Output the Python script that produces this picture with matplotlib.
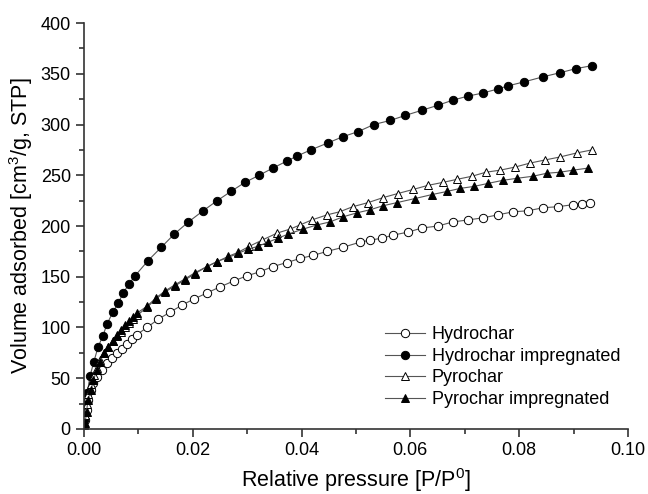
import numpy as np
import matplotlib
matplotlib.use("Agg")
import matplotlib.pyplot as plt
from matplotlib.ticker import MultipleLocator

plt.rcParams['font.family'] = ['Liberation Sans', 'DejaVu Sans']
plt.rcParams['mathtext.default'] = 'regular'

# Hydrochar (open circles)
x_hc = [0.0000, 0.0002, 0.0005, 0.0008, 0.0012, 0.0017, 0.0024, 0.0033, 0.0042,
        0.0051, 0.0061, 0.0070, 0.0079, 0.0088, 0.0097, 0.0116, 0.0136, 0.0158,
        0.0180, 0.0202, 0.0226, 0.0250, 0.0276, 0.0300, 0.0324, 0.0347, 0.0373,
        0.0397, 0.0421, 0.0447, 0.0476, 0.0507, 0.0525, 0.0548, 0.0568, 0.0596,
        0.0621, 0.0651, 0.0678, 0.0706, 0.0733, 0.0761, 0.0789, 0.0816, 0.0844,
        0.0871, 0.0899, 0.0915, 0.0930]
y_hc = [2, 9, 19, 29, 38, 45, 51, 58, 65,
        70, 75, 79, 84, 89, 93, 100, 108, 115,
        122, 128, 134, 140, 146, 151, 155, 160, 164,
        168, 171, 175, 179, 184, 186, 188, 191, 194,
        198, 200, 204, 206, 208, 211, 214, 215, 218,
        219, 221, 222, 223]

# Hydrochar impregnated (filled circles)
x_hci = [0.0000, 0.0002, 0.0006, 0.0011, 0.0018, 0.0026, 0.0035, 0.0042, 0.0053,
         0.0063, 0.0072, 0.0083, 0.0094, 0.0118, 0.0142, 0.0166, 0.0192, 0.0219,
         0.0245, 0.0270, 0.0296, 0.0322, 0.0347, 0.0373, 0.0392, 0.0417, 0.0449,
         0.0476, 0.0504, 0.0533, 0.0563, 0.0591, 0.0621, 0.0651, 0.0678, 0.0706,
         0.0733, 0.0761, 0.0779, 0.0809, 0.0844, 0.0875, 0.0904, 0.0934]
y_hci = [9, 24, 35, 52, 66, 81, 92, 103, 115,
         124, 134, 143, 151, 166, 179, 192, 204, 215,
         225, 234, 243, 250, 257, 264, 269, 275, 282,
         288, 293, 300, 304, 309, 314, 319, 324, 328,
         331, 335, 338, 342, 347, 351, 355, 358]

# Pyrochar (open triangles)
x_py = [0.0000, 0.0002, 0.0005, 0.0008, 0.0013, 0.0018, 0.0024, 0.0030, 0.0037,
        0.0044, 0.0053, 0.0061, 0.0068, 0.0075, 0.0083, 0.0090, 0.0098, 0.0116,
        0.0132, 0.0149, 0.0167, 0.0186, 0.0204, 0.0226, 0.0245, 0.0265, 0.0283,
        0.0304, 0.0327, 0.0355, 0.0379, 0.0397, 0.0419, 0.0447, 0.0470, 0.0494,
        0.0522, 0.0550, 0.0577, 0.0605, 0.0632, 0.0660, 0.0686, 0.0713, 0.0739,
        0.0765, 0.0792, 0.0820, 0.0847, 0.0875, 0.0906, 0.0934]
y_py = [3, 14, 25, 34, 44, 53, 60, 68, 75,
        81, 87, 92, 96, 100, 104, 108, 112, 120,
        128, 135, 141, 147, 153, 160, 165, 170, 174,
        180, 186, 193, 197, 201, 206, 211, 214, 219,
        223, 228, 232, 236, 240, 243, 246, 249, 253,
        255, 258, 262, 265, 268, 272, 275]

# Pyrochar impregnated (filled triangles)
x_pyi = [0.0000, 0.0002, 0.0005, 0.0007, 0.0013, 0.0017, 0.0024, 0.0029, 0.0037,
         0.0044, 0.0053, 0.0061, 0.0068, 0.0075, 0.0083, 0.0090, 0.0097, 0.0116,
         0.0132, 0.0149, 0.0167, 0.0186, 0.0204, 0.0226, 0.0245, 0.0265, 0.0283,
         0.0301, 0.0320, 0.0338, 0.0357, 0.0375, 0.0403, 0.0428, 0.0452, 0.0476,
         0.0502, 0.0526, 0.0550, 0.0575, 0.0608, 0.0640, 0.0667, 0.0691, 0.0717,
         0.0743, 0.0770, 0.0796, 0.0825, 0.0851, 0.0875, 0.0899, 0.0926]
y_pyi = [2, 6, 17, 29, 38, 48, 58, 66, 75,
         81, 87, 93, 98, 102, 106, 110, 114, 121,
         129, 136, 142, 148, 154, 160, 165, 169, 173,
         177, 180, 184, 188, 192, 197, 201, 204, 209,
         213, 216, 220, 223, 227, 231, 234, 237, 239,
         242, 245, 247, 249, 252, 253, 255, 257]

labels = ["Hydrochar", "Hydrochar impregnated", "Pyrochar", "Pyrochar impregnated"]

fig = plt.figure(figsize=(6.48, 4.94), dpi=100)
ax = fig.add_axes([0.1296, 0.1316, 0.8394, 0.8218])

line_kw = dict(color="#555555", lw=0.8, markersize=6, markeredgecolor="black", markeredgewidth=0.7)
ax.plot(x_hc, y_hc, "-o", markerfacecolor="white", label=labels[0], **line_kw)
ax.plot(x_hci, y_hci, "-o", markerfacecolor="black", label=labels[1], **line_kw)
ax.plot(x_py, y_py, "-^", markerfacecolor="white", label=labels[2], **line_kw)
ax.plot(x_pyi, y_pyi, "-^", markerfacecolor="black", label=labels[3], **line_kw)

ax.set_xlim(0, 0.10)
ax.set_ylim(0, 400)
ax.xaxis.set_major_locator(MultipleLocator(0.02))
ax.xaxis.set_minor_locator(MultipleLocator(0.01))
ax.yaxis.set_major_locator(MultipleLocator(50))
ax.yaxis.set_minor_locator(MultipleLocator(25))
ax.xaxis.set_major_formatter(plt.FuncFormatter(lambda v, p: "%.2f" % v))

for s in ["top", "right"]:
    ax.spines[s].set_visible(False)
for s in ["left", "bottom"]:
    ax.spines[s].set_linewidth(1.2)
    ax.spines[s].set_color("#333333")
ax.tick_params(which="major", direction="out", length=6, width=1.2, labelsize=13, colors="#333333", labelcolor="black")
ax.tick_params(which="minor", direction="out", length=3.5, width=1.2, colors="#333333")

ax.set_xlabel("Relative pressure [P/P$^0$]", fontsize=15.5, labelpad=5)
ax.set_ylabel("Volume adsorbed [cm$^3$/g, STP]", fontsize=15.5, labelpad=4)

ax.legend(loc="lower right", bbox_to_anchor=(1.016, 0.012), frameon=False, fontsize=13,
          handlelength=2.2, handletextpad=0.4, labelspacing=0.25)

fig.savefig("out.png", dpi=100)
